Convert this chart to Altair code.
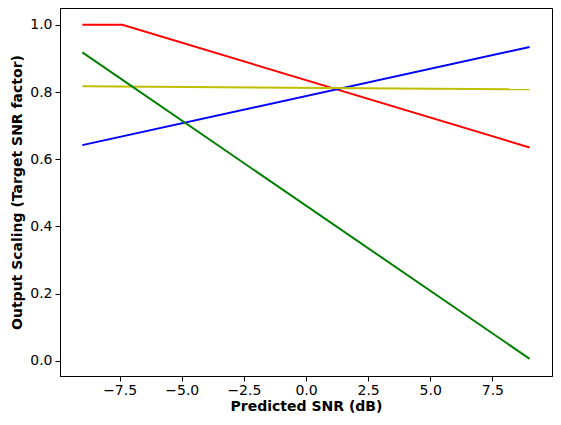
import altair as alt
import pandas as pd

series_names = ["red", "blue", "yellow", "green"]
red_x = [-9.0, -7.39, 9.0]
red_y = [1.0, 1.0, 0.635]
blue_x = [-9.0, 9.0]
blue_y = [0.642, 0.934]
yellow_x = [-9.0, 9.0]
yellow_y = [0.817, 0.808]
green_x = [-9.0, 9.0]
green_y = [0.918, 0.006]
colors = ["#ff0000", "#0000ff", "#bfbf00", "#008000"]

rows = []
for name, xs, ys in zip(series_names, [red_x, blue_x, yellow_x, green_x], [red_y, blue_y, yellow_y, green_y]):
    for i, (a, b) in enumerate(zip(xs, ys)):
        rows.append({"series": name, "x": a, "y": b, "order": i})
df = pd.DataFrame(rows)

x_ticks = [-7.5, -5.0, -2.5, 0.0, 2.5, 5.0, 7.5]
y_ticks = [0.0, 0.2, 0.4, 0.6, 0.8, 1.0]

chart = alt.Chart(df).mark_line(strokeWidth=2).encode(
    x=alt.X("x:Q", scale=alt.Scale(domain=[-9.9, 9.9], nice=False, zero=False),
            axis=alt.Axis(values=x_ticks, format=".1f", title="Predicted SNR (dB)",
                          labelPadding=2, titlePadding=2)),
    y=alt.Y("y:Q", scale=alt.Scale(domain=[-0.045, 1.05], nice=False, zero=False),
            axis=alt.Axis(values=y_ticks, format=".1f", title="Output Scaling (Target SNR factor)",
                          labelPadding=3, titlePadding=5)),
    color=alt.Color("series:N", scale=alt.Scale(domain=series_names, range=colors), legend=None),
    detail="series:N",
    order="order:Q",
).properties(
    width=492, height=368,
    autosize=alt.AutoSizeParams(type="none"),
    padding={"left": 52, "top": 0, "right": 1, "bottom": 41},
).configure_view(
    stroke="black", strokeWidth=1
).configure_axis(
    grid=False,
    domainColor="black",
    tickColor="black",
    tickSize=5,
    labelFont="DejaVu Sans",
    labelFontSize=14,
    labelColor="black",
    titleFont="DejaVu Sans",
    titleFontSize=14,
    titleFontWeight="bold",
    titleColor="black",
)

chart.save("out.html", embed_options={"renderer": "svg", "actions": False})
